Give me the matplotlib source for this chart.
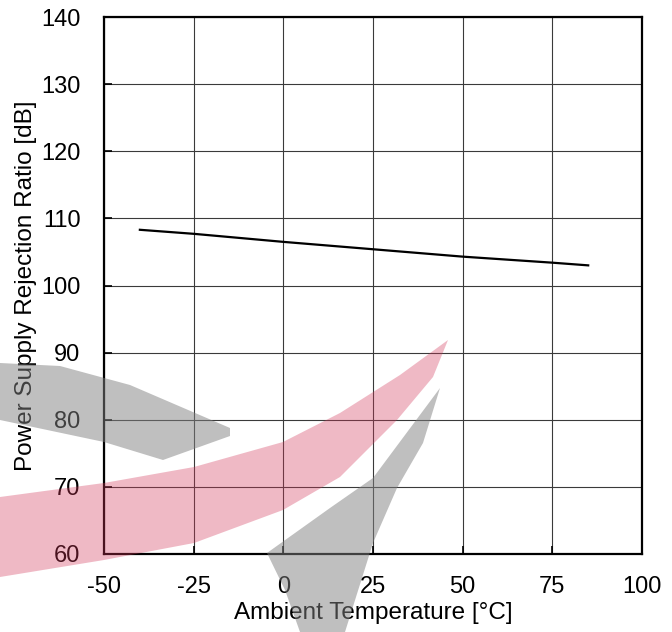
import matplotlib
matplotlib.use('Agg')
import matplotlib.pyplot as plt
from matplotlib.patches import Polygon

plt.rcParams['font.family'] = ['Liberation Sans', 'DejaVu Sans']
plt.rcParams['axes.unicode_minus'] = False

# ── Data ──────────────────────────────────────────────────────
temp_c = [-40, -25, 0, 25, 50, 75, 85]
psrr_db = [108.3, 107.7, 106.5, 105.4, 104.3, 103.4, 103.0]

x_ticks = [-50, -25, 0, 25, 50, 75, 100]
y_ticks = [60, 70, 80, 90, 100, 110, 120, 130, 140]

W, H = 672, 632
fig = plt.figure(figsize=(W / 100, H / 100), dpi=100)
ax = fig.add_axes([104 / W, 78 / H, 538 / W, 537 / H])

ax.plot(temp_c, psrr_db, color='black', lw=1.6, zorder=3)

ax.set_xlim(-50, 100)
ax.set_ylim(60, 140)
ax.set_xticks(x_ticks)
ax.set_yticks(y_ticks)
ax.grid(True, color='#3a3a3a', lw=0.8)
ax.set_axisbelow(True)
ax.tick_params(direction='in', length=6, width=1.2, labelsize=17,
               colors='black')
ax.tick_params(axis='x', pad=16)
ax.tick_params(axis='y', pad=17)
for s in ax.spines.values():
    s.set_linewidth(1.6)

ax.set_xlabel("Ambient Temperature [°C]", fontsize=17.5, labelpad=3)
ax.set_ylabel("Power Supply Rejection Ratio [dB]", fontsize=17.5, labelpad=3)

# ── Background watermark (approximate) ───────────────────────
def wm(pts, color, alpha):
    p = Polygon([(x / W, 1 - y / H) for x, y in pts], closed=True,
                transform=fig.transFigure, facecolor=color,
                edgecolor='none', alpha=alpha, zorder=10)
    fig.add_artist(p)

wm([(0, 497), (104, 483), (194, 467), (283, 442), (340, 413),
    (400, 375), (448, 340), (433, 377), (397, 420), (340, 477),
    (283, 510), (194, 543), (104, 560), (0, 577)], '#d2385a', 0.35)
wm([(0, 363), (60, 366), (130, 385), (230, 428), (230, 436),
    (163, 460), (104, 442), (0, 420)], '#808080', 0.5)
wm([(267, 553), (330, 508), (373, 478), (440, 388), (423, 443),
    (397, 488), (373, 543), (345, 632), (300, 632), (285, 590)],
   '#808080', 0.5)

fig.savefig("out.png", dpi=100, facecolor='white')
